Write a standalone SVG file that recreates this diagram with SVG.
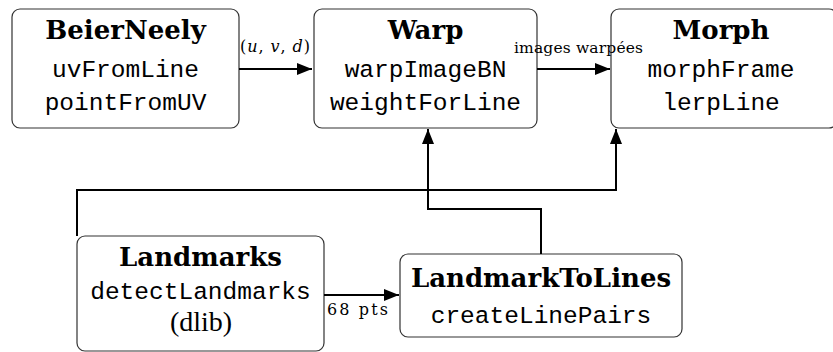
<svg xmlns="http://www.w3.org/2000/svg" width="833" height="352" viewBox="0 0 833 352">
<style>
.box{fill:#fff;stroke:#333;stroke-width:1.2}
.t{font-family:"DejaVu Serif","Liberation Serif",serif;font-weight:bold;font-size:26px;text-anchor:middle;fill:#000}
.m{font-family:"Liberation Mono","DejaVu Sans Mono",monospace;font-size:24.5px;text-anchor:middle;fill:#000}
.r{font-family:"Liberation Serif","DejaVu Serif",serif;font-size:28px;text-anchor:middle;fill:#000}
.lbl{font-family:"DejaVu Serif","Liberation Serif",serif;text-anchor:middle;fill:#000}
.c{fill:none;stroke:#000;stroke-width:2}
</style>
<defs>
<marker id="ah" markerUnits="userSpaceOnUse" markerWidth="16" markerHeight="14" refX="15" refY="6" orient="auto">
<path d="M0,0 L15,6 L0,12 Z" fill="#000"/>
</marker>
</defs>
<g id="beierneely">
<rect class="box" x="12" y="9" width="227" height="119" rx="8"/>
<text class="t" x="125.5" y="39">BeierNeely</text>
<text class="m" x="125.5" y="77">uvFromLine</text>
<text class="m" x="125.5" y="110">pointFromUV</text>
</g>
<g id="warp">
<rect class="box" x="314" y="9" width="223" height="119" rx="8"/>
<text class="t" x="425.5" y="39">Warp</text>
<text class="m" x="425.5" y="77">warpImageBN</text>
<text class="m" x="425.5" y="110">weightForLine</text>
</g>
<g id="morph">
<rect class="box" x="611" y="9" width="226" height="119" rx="8"/>
<text class="t" x="721" y="39">Morph</text>
<text class="m" x="721" y="77">morphFrame</text>
<text class="m" x="721" y="110">lerpLine</text>
</g>
<g id="landmarks">
<rect class="box" x="77" y="236" width="247" height="115" rx="8"/>
<text class="t" x="200.5" y="266">Landmarks</text>
<text class="m" x="200.5" y="299">detectLandmarks</text>
<text class="r" x="201" y="331">(dlib)</text>
</g>
<g id="landmarktolines">
<rect class="box" x="400" y="254" width="282" height="83" rx="8"/>
<text class="t" x="541" y="287">LandmarkToLines</text>
<text class="m" x="541" y="323">createLinePairs</text>
</g>
<g id="connectors">
<path class="c" d="M239,69 H312" marker-end="url(#ah)"/>
<path class="c" d="M537,69 H610" marker-end="url(#ah)"/>
<path class="c" d="M324,295 H399" marker-end="url(#ah)"/>
<path class="c" d="M77,236 V190 H616 V129" marker-end="url(#ah)"/>
<path class="c" d="M541,254 V209 H428 V129" marker-end="url(#ah)"/>
<text class="lbl" x="275" y="52" font-size="16" textLength="70" lengthAdjust="spacing">(<tspan font-style="italic">u</tspan>, <tspan font-style="italic">v</tspan>, <tspan font-style="italic">d</tspan>)</text>
<text class="lbl" x="578.5" y="53" font-size="15.5" textLength="129" lengthAdjust="spacing">images warpées</text>
<text class="lbl" x="357.5" y="315" font-size="16" textLength="61" lengthAdjust="spacing">68 pts</text>
</g>
</svg>
